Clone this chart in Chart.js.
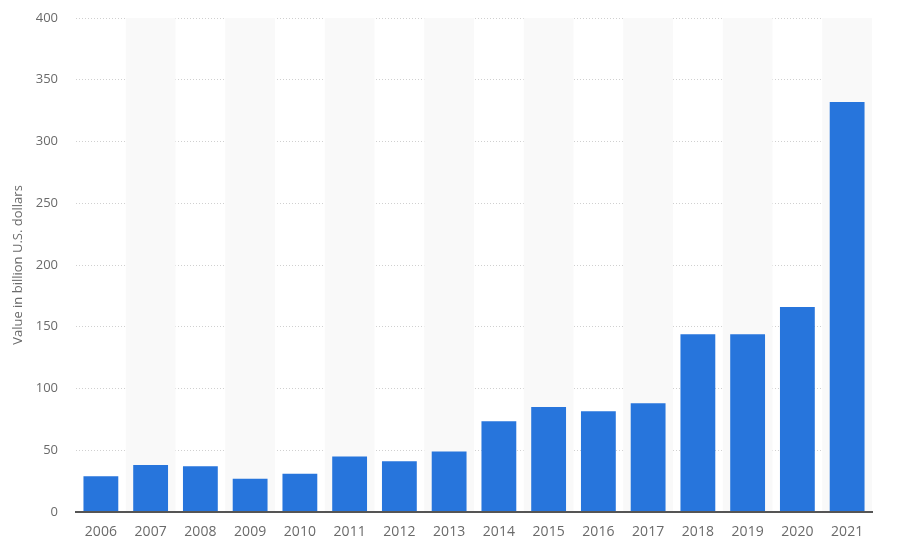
<!DOCTYPE html>
<html>
<head>
<meta charset="utf-8">
<script src="https://cdn.jsdelivr.net/npm/chart.js@4"></script>
<style>
html,body{margin:0;padding:0;background:#fff;}
#wrap{width:900px;height:552px;position:relative;}
</style>
</head>
<body>
<div id="wrap"><canvas id="c" width="900" height="552"></canvas></div>
<script>
const categories = ["2006","2007","2008","2009","2010","2011","2012","2013","2014","2015","2016","2017","2018","2019","2020","2021"];
const values = [29, 38, 37, 27, 31, 45, 41, 49, 73.5, 85, 81.5, 88, 144, 144, 166, 332];
const yTicks = [0, 50, 100, 150, 200, 250, 300, 350, 400];
const yTitle = "Value in billion U.S. dollars";

const bandPlugin = {
  id: 'bands',
  beforeDatasetsDraw(chart) {
    const {ctx, chartArea, scales} = chart;
    const x = scales.x;
    const w = x.width / categories.length;
    ctx.save();
    ctx.fillStyle = '#f9f9f9';
    categories.forEach((c, i) => {
      if (i % 2 === 1) {
        const cx = x.getPixelForValue(i);
        ctx.fillRect(cx - w / 2, chartArea.top, w, chartArea.bottom - chartArea.top);
      }
    });
    ctx.restore();
  }
};

Chart.defaults.font.family = "'Open Sans', 'DejaVu Sans', sans-serif";
new Chart(document.getElementById('c'), {
  type: 'bar',
  data: {
    labels: categories,
    datasets: [{
      data: values,
      backgroundColor: '#2775dc',
      borderWidth: 0,
      barPercentage: 0.7,
      categoryPercentage: 1.0
    }]
  },
  options: {
    responsive: false,
    animation: false,
    layout: { padding: { top: 18, right: 28, bottom: 0, left: 0 } },
    plugins: { legend: { display: false }, tooltip: { enabled: false } },
    scales: {
      x: {
        grid: { display: false },
        border: { display: true, color: '#555555', width: 2, z: 1 },
        ticks: { color: '#6a6a6a', font: { size: 14 }, padding: 4, maxRotation: 0 },
        afterFit(s) { s.height = 40; s.paddingLeft = 0; s.paddingRight = 0; }
      },
      y: {
        min: 0, max: 400,
        afterBuildTicks(s) { s.ticks = yTicks.map(v => ({ value: v })); },
        grid: { color: '#d0d0d0', lineWidth: 1, drawTicks: false },
        border: { display: false, dash: [1, 2] },
        ticks: { color: '#6a6a6a', font: { size: 13 }, padding: 18 },
        title: { display: true, text: yTitle, color: '#6a6a6a', font: { size: 13 }, padding: { top: 10, bottom: 0 } },
        afterFit(s) { s.width = 76; s.paddingTop = 0; s.paddingBottom = 0; }
      }
    }
  },
  plugins: [bandPlugin]
});
</script>
</body>
</html>
